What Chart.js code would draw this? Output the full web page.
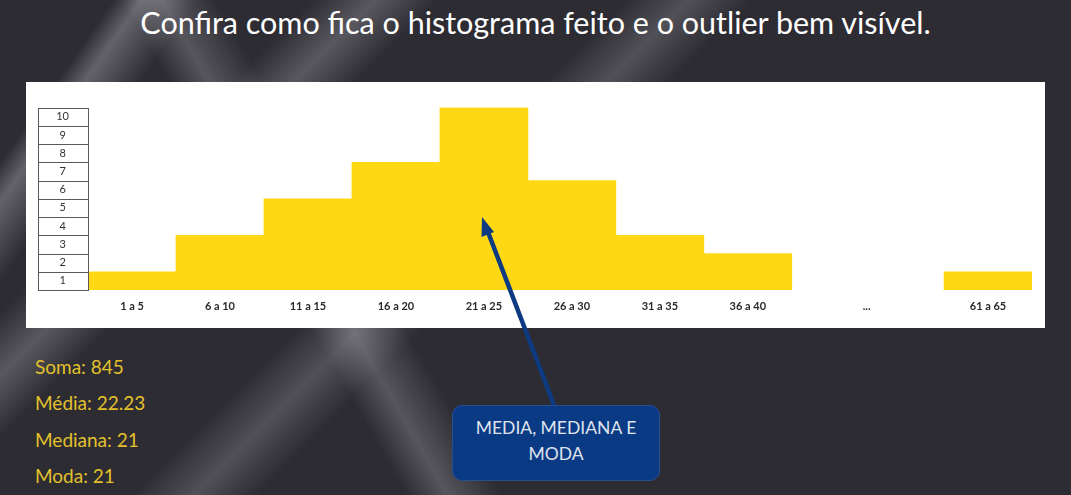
<!DOCTYPE html>
<html><head><meta charset="utf-8">
<script src="https://cdn.jsdelivr.net/npm/chart.js@4/dist/chart.umd.min.js"></script>
<style>
html,body{margin:0;padding:0;}
body{width:1071px;height:495px;overflow:hidden;position:relative;font-family:Lato,"Open Sans",sans-serif;
background:
 linear-gradient(125deg, rgba(0,0,0,0) 0%, rgba(0,0,0,0) 8%, rgba(200,200,205,0.35) 10%, rgba(0,0,0,0) 14%, rgba(0,0,0,0) 100%),
 linear-gradient(60deg, rgba(0,0,0,0) 0%, rgba(0,0,0,0) 30%, rgba(210,210,215,0.25) 33%, rgba(0,0,0,0) 37%, rgba(0,0,0,0) 100%),
 linear-gradient(135deg, rgba(0,0,0,0) 20%, rgba(190,190,195,0.3) 24%, rgba(0,0,0,0) 28%, rgba(0,0,0,0) 40%, rgba(190,190,195,0.25) 44%, rgba(0,0,0,0) 48%),
 #2d2c33;}
#title{position:absolute;left:0;width:1071px;top:1px;text-align:center;color:#fff;font-size:30.5px;line-height:42px;}
#panel{position:absolute;left:26px;top:82px;width:1019px;height:246px;background:#fff;}
#stats{position:absolute;left:35px;top:349px;color:#e3c12b;font-size:19px;line-height:36.3px;}
#callout{position:absolute;left:452px;top:405px;width:208px;height:76px;background:#0b3a85;border:1px solid #2a4f90;border-radius:10px;color:#dfe3ec;font-size:17.5px;text-align:center;line-height:26px;box-sizing:border-box;padding-top:9px;}
#arrow{position:absolute;left:0;top:0;}
</style></head>
<body>
<div id="title">Confira como fica o histograma feito e o outlier bem visível.</div>
<div id="panel"><canvas id="c" width="1019" height="246"></canvas></div>
<div id="stats">Soma: 845<br>Média: 22.23<br>Mediana: 21<br>Moda: 21</div>
<div id="callout">MEDIA, MEDIANA E<br>MODA</div>
<svg id="arrow" width="1071" height="495"><line x1="554" y1="405" x2="488" y2="232" stroke="#0d3a80" stroke-width="4.5"/><polygon points="482,217 481.5,237 494,232" fill="#0d3a80"/></svg>
<script>
const binLabels = ['1 a 5','6 a 10','11 a 15','16 a 20','21 a 25','26 a 30','31 a 35','36 a 40','61 a 65'];
const binCounts = [1,3,5,7,10,6,3,2,1];
const binSlots = [0,1,2,3,4,5,6,7,9.73];
const gapLabel = '...';
const gapSlot = 8.35;
const yLevels = [1,2,3,4,5,6,7,8,9,10];

const tickSlots = binSlots.slice(0,8).concat([gapSlot, binSlots[8]]);
const tickLabels = binLabels.slice(0,8).concat([gapLabel, binLabels[8]]);

const boxPlugin = {
  id:'boxes',
  afterDraw(chart){
    const y = chart.scales.y; const ctx = chart.ctx;
    ctx.save();
    ctx.strokeStyle = '#5a5a5a'; ctx.lineWidth = 1;
    yLevels.forEach(v=>{
      const t = Math.round(y.getPixelForValue(v)) + 0.5;
      const b = Math.round(y.getPixelForValue(v-1)) + 0.5;
      ctx.strokeRect(Math.round(y.left)+0.5, t, Math.round(y.right - y.left), b - t);
    });
    ctx.restore();
  }
};

new Chart(document.getElementById('c'), {
  type:'bar',
  data:{datasets:[{
    data: binSlots.map((s,i)=>({x:s, y:binCounts[i]})),
    backgroundColor:'#ffd815', borderWidth:0,
    barPercentage:1.0, categoryPercentage:1.0, xAxisID:'x', yAxisID:'y'
  }]},
  options:{
    responsive:false, animation:false,
    layout:{padding:{top:21,left:12,right:13,bottom:0}},
    plugins:{legend:{display:false},tooltip:{enabled:false}},
    scales:{
      x:{type:'linear', min:-0.5, max:10.23, display:false, offset:false, grid:{offset:false},
         afterBuildTicks(s){ s.ticks = binSlots.map(v=>({value:v})); }},
      x2:{type:'linear', position:'bottom', min:-0.5, max:10.23, offset:false,
         grid:{display:false, drawTicks:false, offset:false}, border:{display:false},
         afterBuildTicks(s){ s.ticks = tickSlots.map(v=>({value:v})); },
         afterFit(s){ s.height = 38; s.paddingLeft = 0; s.paddingRight = 0; },
         ticks:{autoSkip:false, maxRotation:0, padding:10, color:'#2a2a2a',
           font:{family:'Lato', size:11, weight:'bold'},
           callback:(v,i)=>tickLabels[i]}},
      y:{type:'linear', min:0, max:10,
         grid:{display:false, drawTicks:false}, border:{display:false},
         afterBuildTicks(s){ s.ticks = yLevels.map(v=>({value:v-0.5})); },
         afterFit(s){ s.width = 50; },
         ticks:{autoSkip:false, padding:19, crossAlign:'center', color:'#333',
           font:{family:'Lato', size:11},
           callback:(v,i)=>String(yLevels[i])}}
    }
  },
  plugins:[boxPlugin]
});
</script>
</body></html>
